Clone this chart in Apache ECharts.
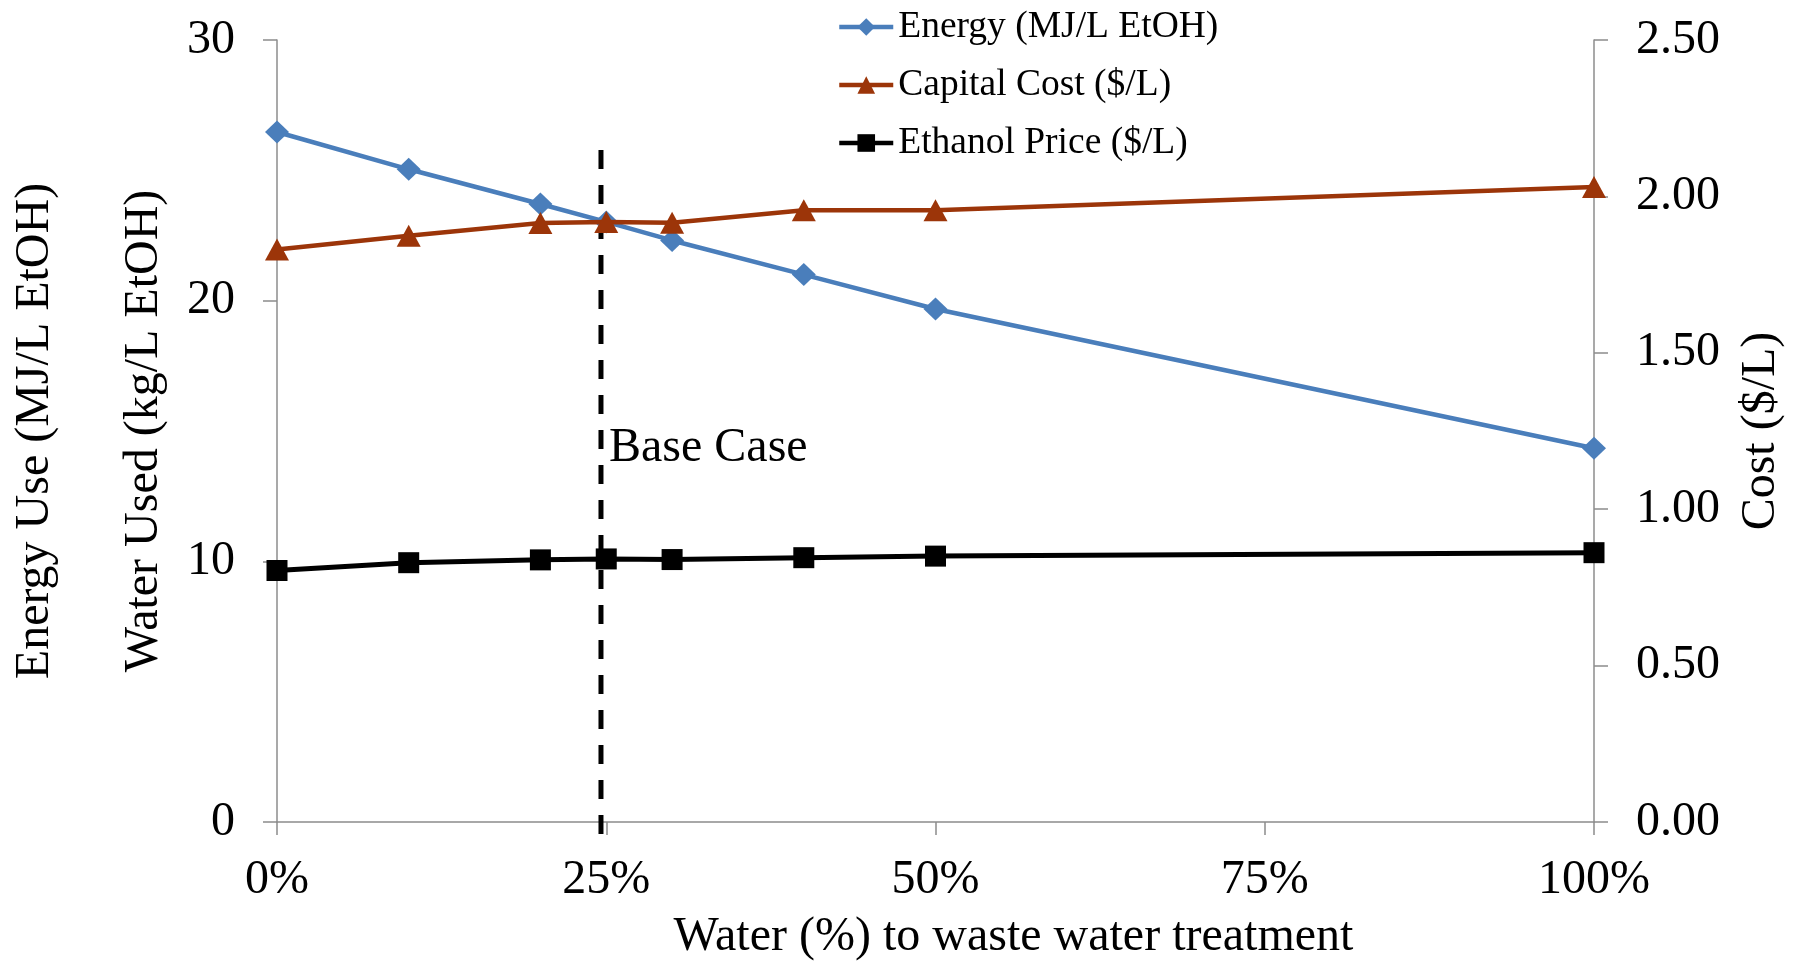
<!DOCTYPE html>
<html>
<head>
<meta charset="utf-8">
<script src="https://cdn.jsdelivr.net/npm/echarts@6.0.0/dist/echarts.min.js"></script>
<style>
html,body{margin:0;padding:0;background:#fff;overflow:hidden;}
#chart{width:1794px;height:966px;}
</style>
</head>
<body>
<div id="chart"></div>
<script>
// Data
const waterFraction = [0, 0.10, 0.20, 0.25, 0.30, 0.40, 0.50, 1.00];
const energyMJperL = [26.47, 25.04, 23.71, 23.02, 22.31, 21.00, 19.68, 14.34];
const capitalCost = [1.830, 1.874, 1.915, 1.918, 1.916, 1.956, 1.956, 2.030];
const ethanolPrice = [0.804, 0.829, 0.838, 0.841, 0.839, 0.845, 0.850, 0.861];
const baseCaseX = 0.246;
const leftTicks = [0, 10, 20, 30];
const rightTicks = [0, 0.5, 1.0, 1.5, 2.0, 2.5];
const xTicks = [0, 0.25, 0.5, 0.75, 1.0];

const FONT = '"Liberation Serif", "Times New Roman", serif';
const AXIS_COLOR = '#8c8c8c';
const BLUE = '#4a7ebb';
const BROWN = '#9c3509';

function pairs(xs, ys) { return xs.map((x, i) => [x, ys[i]]); }

const chart = echarts.init(document.getElementById('chart'), null, {renderer: 'canvas'});

const baseAxisText = {fontFamily: FONT, fontSize: 48, color: '#000'};

const option = {
  backgroundColor: '#fff',
  animation: false,
  textStyle: {fontFamily: FONT},
  grid: [
    {left: 277, right: 200, top: 40, bottom: 139, containLabel: false},
    {left: 277, right: 200, top: 150, bottom: 118, containLabel: false}
  ],
  legend: {
    orient: 'vertical',
    left: 832,
    top: 3,
    itemWidth: 54,
    itemHeight: 22,
    itemGap: 20,
    lineStyle: {width: 4.5},
    textStyle: {fontFamily: FONT, fontSize: 37.5, color: '#000', lineHeight: 37},
    data: ['Energy (MJ/L EtOH)', 'Capital Cost ($/L)', 'Ethanol Price ($/L)']
  },
  xAxis: [
    {
      type: 'value', gridIndex: 0,
      min: xTicks[0], max: xTicks[xTicks.length - 1], interval: 0.25,
      name: 'Water (%) to waste water treatment',
      nameLocation: 'middle', nameGap: 91,
      nameTextStyle: Object.assign({}, baseAxisText, {padding: [0, 0, 0, 156]}),
      axisLine: {show: true, lineStyle: {color: AXIS_COLOR, width: 1.5}},
      axisTick: {show: true, length: 13, lineStyle: {color: AXIS_COLOR, width: 1.5}},
      axisLabel: Object.assign({}, baseAxisText, {margin: 34, formatter: v => Math.round(v * 100) + '%'}),
      splitLine: {show: false}
    },
    {
      type: 'value', gridIndex: 1, min: 0, max: 1, show: false
    }
  ],
  yAxis: [
    {
      type: 'value', gridIndex: 0, position: 'left',
      min: leftTicks[0], max: leftTicks[leftTicks.length - 1], interval: 10,
      name: 'Energy Use (MJ/L EtOH)',
      nameLocation: 'middle', nameGap: 218,
      nameTextStyle: baseAxisText,
      axisLine: {show: true, lineStyle: {color: AXIS_COLOR, width: 1.5}},
      axisTick: {show: true, length: 14, lineStyle: {color: AXIS_COLOR, width: 1.5}},
      axisLabel: Object.assign({}, baseAxisText, {margin: 42}),
      splitLine: {show: false}
    },
    {
      type: 'value', gridIndex: 0, position: 'right',
      min: rightTicks[0], max: rightTicks[rightTicks.length - 1], interval: 0.5,
      name: 'Cost ($/L)',
      nameLocation: 'middle', nameGap: 143,
      nameTextStyle: baseAxisText,
      axisLine: {show: true, lineStyle: {color: AXIS_COLOR, width: 1.5}},
      axisTick: {show: true, length: 14, lineStyle: {color: AXIS_COLOR, width: 1.5}},
      axisLabel: Object.assign({}, baseAxisText, {margin: 42, formatter: v => v.toFixed(2)}),
      splitLine: {show: false}
    },
    {
      type: 'value', gridIndex: 0, position: 'left',
      min: leftTicks[0], max: leftTicks[leftTicks.length - 1], interval: 10,
      name: 'Water Used (kg/L EtOH)',
      nameLocation: 'middle', nameGap: 109,
      nameTextStyle: baseAxisText,
      axisLine: {show: false}, axisTick: {show: false}, axisLabel: {show: false},
      splitLine: {show: false}
    },
    {
      type: 'value', gridIndex: 1, min: 0, max: 1, show: false
    }
  ],
  graphic: [
    {
      type: 'text', left: 609, top: 424, silent: true,
      style: {text: 'Base Case', font: '48px ' + FONT, fill: '#000'}
    }
  ],
  series: [
    {
      name: 'Base Case line', type: 'line', xAxisIndex: 1, yAxisIndex: 3,
      data: [[baseCaseX, 1], [baseCaseX, 0]],
      symbol: 'none', silent: true,
      lineStyle: {color: '#000', width: 5, type: [19, 16]},
      z: 1
    },
    {
      name: 'Energy (MJ/L EtOH)', type: 'line', xAxisIndex: 0, yAxisIndex: 0,
      data: pairs(waterFraction, energyMJperL),
      symbol: 'diamond', symbolSize: [24, 23],
      color: BLUE,
      lineStyle: {color: BLUE, width: 4.5},
      itemStyle: {color: BLUE},
      z: 3
    },
    {
      name: 'Capital Cost ($/L)', type: 'line', xAxisIndex: 0, yAxisIndex: 1,
      data: pairs(waterFraction, capitalCost),
      symbol: 'triangle', symbolSize: [24, 22],
      color: BROWN,
      lineStyle: {color: BROWN, width: 4.5},
      itemStyle: {color: BROWN},
      z: 4
    },
    {
      name: 'Ethanol Price ($/L)', type: 'line', xAxisIndex: 0, yAxisIndex: 1,
      data: pairs(waterFraction, ethanolPrice),
      symbol: 'rect', symbolSize: [21, 21],
      color: '#000',
      lineStyle: {color: '#000', width: 5},
      itemStyle: {color: '#000'},
      z: 5
    }
  ]
};

chart.setOption(option);
</script>
</body>
</html>
